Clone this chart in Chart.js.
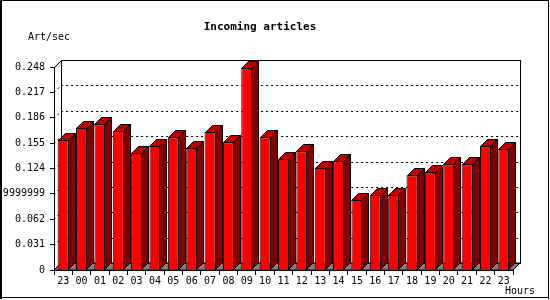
<!DOCTYPE html>
<html>
<head>
<meta charset="utf-8">
<script src="https://cdn.jsdelivr.net/npm/chart.js@4/dist/chart.umd.min.js"></script>
<style>
  html, body { margin: 0; padding: 0; background: #fff; }
  canvas { display: block; }
</style>
</head>
<body>
<canvas id="chart" width="550" height="300"></canvas>
<script>
// hourly values
const hours = ['23','00','01','02','03','04','05','06','07','08','09','10','11','12','13','14','15','16','17','18','19','20','21','22','23'];
const artPerSec = [0.159, 0.174, 0.178, 0.170, 0.1435, 0.152, 0.162, 0.1496, 0.169, 0.156, 0.247, 0.162, 0.136,
                   0.145, 0.125, 0.133, 0.086, 0.092, 0.092, 0.1155, 0.120, 0.129, 0.129, 0.151, 0.148];
const yTickValues = [0, 0.031, 0.062, 0.093, 0.124, 0.155, 0.186, 0.217, 0.248];
const yTickLabels = ['0', '0.031', '0.062', '0.09299999999999999', '0.124', '0.155', '0.186', '0.217', '0.248'];

const DEPTH = 7;
const MONO = "'DejaVu Sans Mono', 'Liberation Mono', monospace";

function poly(ctx, pts, fill) {
    ctx.beginPath();
    ctx.moveTo(pts[0][0], pts[0][1]);
    for (let i = 1; i < pts.length; i++) ctx.lineTo(pts[i][0], pts[i][1]);
    ctx.closePath();
    if (fill) { ctx.fillStyle = fill; ctx.fill(); }
    ctx.stroke();
}

// back wall, floor and dotted grid behind the bars
const backdrop = {
    id: 'backdrop',
    beforeDatasetsDraw(chart) {
        const { ctx, chartArea: a, scales: { y } } = chart;
        const d = DEPTH;
        ctx.save();
        ctx.strokeStyle = '#000';
        ctx.lineWidth = 1;
        poly(ctx, [[a.left, a.bottom], [a.right, a.bottom], [a.right + d, a.bottom - d], [a.left + d, a.bottom - d]], '#808080');
        ctx.setLineDash([2, 3]);
        yTickValues.slice(1, -1).forEach(v => {
            const py = Math.round(y.getPixelForValue(v)) + 0.5;
            ctx.beginPath();
            ctx.moveTo(a.left, py);
            ctx.lineTo(a.left + d, py - d);
            ctx.lineTo(a.right + d, py - d);
            ctx.stroke();
        });
        ctx.setLineDash([]);
        const t = Math.round(a.top) + 0.5;
        ctx.strokeRect(Math.round(a.left) + d + 0.5, t - d, a.right - a.left, a.bottom - a.top);
        ctx.beginPath();
        ctx.moveTo(a.left + 0.5, t);
        ctx.lineTo(a.left + d + 0.5, t - d);
        ctx.stroke();
        ctx.restore();
    },
    afterDatasetsDraw(chart) {
        const { ctx } = chart;
        const d = DEPTH;
        ctx.save();
        ctx.strokeStyle = '#000';
        ctx.lineWidth = 1;
        chart.getDatasetMeta(0).data.forEach(bar => {
            const xl = Math.round(bar.x - bar.width / 2) + 0.5;
            const xr = Math.round(bar.x + bar.width / 2) - 0.5;
            const top = Math.round(bar.y) + 0.5;
            const base = Math.round(bar.base) - 0.5;
            poly(ctx, [[xr, top], [xr + d, top - d], [xr + d, base - d], [xr, base]], '#800000');
            poly(ctx, [[xl, top], [xl + d, top - d], [xr + d, top - d], [xr, top]], '#c00000');
        });
        ctx.restore();
    },
    afterDraw(chart) {
        const { ctx } = chart;
        ctx.save();
        ctx.fillStyle = '#000';
        ctx.font = 'bold 11px ' + MONO;
        ctx.textAlign = 'center';
        ctx.textBaseline = 'middle';
        ctx.fillText('Incoming articles', 260, 27);
        ctx.font = '10px ' + MONO;
        ctx.textAlign = 'left';
        ctx.fillText('Art/sec', 28, 37);
        ctx.fillText('Hours', 505, 291);
        ctx.fillRect(0, 0, 2, 299);
        ctx.fillRect(0, 0, 549, 1);
        ctx.fillRect(548, 0, 1, 299);
        ctx.fillRect(0, 297, 549, 1);
        ctx.restore();
    }
};

new Chart(document.getElementById('chart'), {
    type: 'bar',
    data: {
        labels: hours,
        datasets: [{
            data: artPerSec,
            backgroundColor: '#ff0000',
            borderColor: '#000',
            borderWidth: 1,
            categoryPercentage: 0.6,
            barPercentage: 1.0
        }]
    },
    options: {
        responsive: false,
        animation: false,
        layout: { padding: { top: 67, right: 37, bottom: 0, left: 0 } },
        plugins: { legend: { display: false }, tooltip: { enabled: false } },
        scales: {
            x: {
                afterFit: s => { s.height = 30; },
                grid: { offset: true, drawOnChartArea: false, tickLength: 5, color: '#000' },
                border: { color: '#000' },
                ticks: { color: '#000', font: { family: MONO, size: 10 }, padding: 0, maxRotation: 0, autoSkip: false }
            },
            y: {
                min: 0,
                max: 0.248,
                afterFit: s => { s.width = 54; },
                afterBuildTicks: s => { s.ticks = yTickValues.map(v => ({ value: v })); },
                grid: { drawOnChartArea: false, tickLength: 4, color: '#000' },
                border: { color: '#000' },
                ticks: {
                    color: '#000',
                    font: { family: MONO, size: 10 },
                    padding: 5,
                    callback: (v, i) => yTickLabels[i]
                }
            }
        }
    },
    plugins: [backdrop]
});
</script>
</body>
</html>
